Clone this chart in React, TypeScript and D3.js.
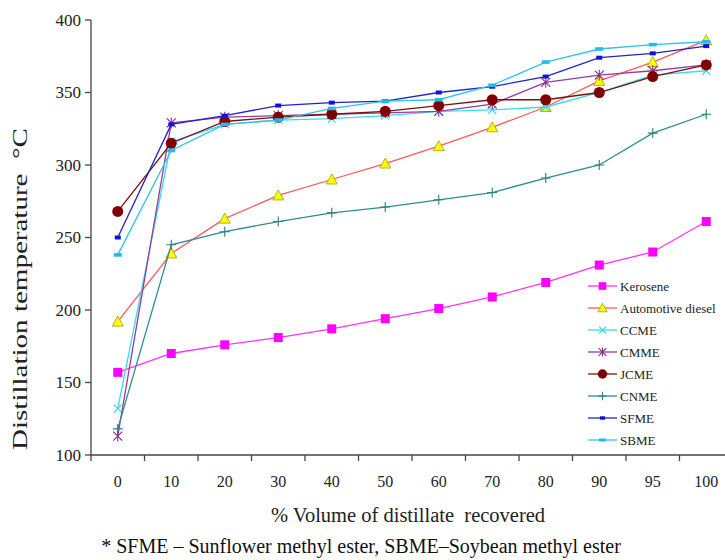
import React, { useRef, useEffect } from 'react';
import * as d3 from 'd3';

const categories = ['0', '10', '20', '30', '40', '50', '60', '70', '80', '90', '95', '100'];
const yTicks = [100, 150, 200, 250, 300, 350, 400];

const kerosene = [157, 170, 176, 181, 187, 194, 201, 209, 219, 231, 240, 261];
const diesel = [192, 239, 263, 279, 290, 301, 313, 326, 340, 358, 371, 386];
const ccme = [132, 316, 328, 331, 332, 334, 337, 338, 340, 350, 362, 365];
const cmme = [113, 329, 333, 334, 335, 336, 337, 342, 357, 362, 365, 369];
const jcme = [268, 315, 330, 333, 335, 337, 341, 345, 345, 350, 361, 369];
const cnme = [118, 245, 254, 261, 267, 271, 276, 281, 291, 300, 322, 335];
const sfme = [250, 328, 334, 341, 343, 344, 350, 354, 361, 374, 377, 382];
const sbme = [238, 310, 328, 331, 339, 344, 345, 355, 371, 380, 383, 385];

const seriesNames = ['Kerosene', 'Automotive diesel', 'CCME', 'CMME', 'JCME', 'CNME', 'SFME', 'SBME'];
const seriesValues = [kerosene, diesel, ccme, cmme, jcme, cnme, sfme, sbme];

const styles = [
  { line: '#ff33ff', marker: 'square', fill: '#ff00ff', stroke: '#ff00ff' },
  { line: '#ff5a5a', marker: 'triangle', fill: '#ffff00', stroke: '#a0a000' },
  { line: '#33ddee', marker: 'x', fill: 'none', stroke: '#33ddee' },
  { line: '#9a3c9a', marker: 'star', fill: 'none', stroke: '#8a2a8a' },
  { line: '#7a1010', marker: 'circle', fill: '#800000', stroke: '#800000' },
  { line: '#2a8f8f', marker: 'plus', fill: 'none', stroke: '#2a7f7f' },
  { line: '#2222cc', marker: 'smallsq', fill: '#1111dd', stroke: '#1111dd' },
  { line: '#2ec4ee', marker: 'bar', fill: '#22bbee', stroke: '#22bbee' },
];

const FONT = '"Liberation Serif", "Times New Roman", serif';

function drawMarker(g, type, x, y, k, st) {
  if (type === 'square') {
    g.append('rect').attr('x', x - 4.5 * k).attr('y', y - 4.5 * k)
      .attr('width', 9 * k).attr('height', 9 * k).attr('fill', st.fill);
  } else if (type === 'triangle') {
    g.append('path')
      .attr('d', `M${x},${y - 5.5 * k}L${x + 5.5 * k},${y + 4.5 * k}L${x - 5.5 * k},${y + 4.5 * k}Z`)
      .attr('fill', st.fill).attr('stroke', st.stroke).attr('stroke-width', 0.8);
  } else if (type === 'x') {
    const r = 4 * k;
    g.append('path')
      .attr('d', `M${x - r},${y - r}L${x + r},${y + r}M${x - r},${y + r}L${x + r},${y - r}`)
      .attr('stroke', st.stroke).attr('stroke-width', 1.2);
  } else if (type === 'star') {
    const r = 4.5 * k;
    g.append('path')
      .attr('d', `M${x - r},${y - r}L${x + r},${y + r}M${x - r},${y + r}L${x + r},${y - r}M${x},${y - r * 1.2}L${x},${y + r * 1.2}`)
      .attr('stroke', st.stroke).attr('stroke-width', 1.1);
  } else if (type === 'circle') {
    g.append('circle').attr('cx', x).attr('cy', y).attr('r', 5.5 * k).attr('fill', st.fill);
  } else if (type === 'plus') {
    const r = 5 * k;
    g.append('path')
      .attr('d', `M${x - r},${y}L${x + r},${y}M${x},${y - r}L${x},${y + r}`)
      .attr('stroke', st.stroke).attr('stroke-width', 1.1);
  } else if (type === 'smallsq') {
    g.append('rect').attr('x', x - 3 * k).attr('y', y - 2 * k)
      .attr('width', 6 * k).attr('height', 4 * k).attr('fill', st.fill);
  } else if (type === 'bar') {
    g.append('rect').attr('x', x - 4 * k).attr('y', y - 1.8 * k)
      .attr('width', 8 * k).attr('height', 3.6 * k).attr('fill', st.fill);
  }
}

const App = () => {
  const ref = useRef(null);

  useEffect(() => {
    const width = 725;
    const height = 560;
    const left = 91;
    const top = 20;
    const bottom = 455;
    const step = 53.5;

    const x = d3.scaleBand().domain(categories).range([left, left + step * categories.length]);
    const y = d3.scaleLinear().domain([100, 400]).range([bottom, top]);

    const root = d3.select(ref.current);
    root.selectAll('*').remove();

    const svg = root.append('svg')
      .attr('width', width)
      .attr('height', height)
      .style('position', 'absolute')
      .style('left', '0px')
      .style('top', '0px')
      .style('background', '#fff');

    const axisColor = '#444';

    // Y axis
    svg.append('line').attr('x1', left).attr('x2', left).attr('y1', top).attr('y2', bottom)
      .attr('stroke', axisColor).attr('stroke-width', 1.3);
    yTicks.forEach(t => {
      svg.append('line').attr('x1', left - 6).attr('x2', left).attr('y1', y(t)).attr('y2', y(t))
        .attr('stroke', axisColor).attr('stroke-width', 1.3);
      svg.append('text').attr('x', left - 10).attr('y', y(t)).attr('dy', '0.35em')
        .attr('text-anchor', 'end').attr('font-family', FONT).attr('font-size', 17)
        .attr('fill', '#222').text(t);
    });

    // X axis
    svg.append('line').attr('x1', left).attr('x2', left + step * categories.length)
      .attr('y1', bottom).attr('y2', bottom).attr('stroke', axisColor).attr('stroke-width', 1.3);
    d3.range(categories.length + 1).forEach(i => {
      const xx = left + i * step;
      svg.append('line').attr('x1', xx).attr('x2', xx).attr('y1', bottom).attr('y2', bottom + 6)
        .attr('stroke', axisColor).attr('stroke-width', 1.3);
    });
    categories.forEach(c => {
      svg.append('text').attr('x', x(c) + x.bandwidth() / 2).attr('y', 487)
        .attr('text-anchor', 'middle').attr('font-family', FONT).attr('font-size', 16)
        .attr('fill', '#222').text(c);
    });

    // Axis titles
    svg.append('text').attr('x', 408).attr('y', 522).attr('text-anchor', 'middle')
      .attr('font-family', FONT).attr('font-size', 20.5).attr('fill', '#222')
      .attr('xml:space', 'preserve')
      .text('% Volume of distillate  recovered');
    svg.append('text')
      .attr('transform', 'translate(27,289) rotate(-90)')
      .attr('text-anchor', 'middle').attr('font-family', FONT).attr('font-size', 21.5)
      .attr('fill', '#222').attr('xml:space', 'preserve')
      .attr('textLength', 322).attr('lengthAdjust', 'spacingAndGlyphs')
      .text('Distillation temperature  °C');
    svg.append('text').attr('x', 361).attr('y', 553).attr('text-anchor', 'middle')
      .attr('font-family', FONT).attr('font-size', 20).attr('fill', '#111')
      .text('* SFME – Sunflower methyl ester, SBME–Soybean methyl ester');

    // Series
    const cx = c => x(c) + x.bandwidth() / 2;
    const lineGen = d3.line().x((d, i) => cx(categories[i])).y(d => y(d));

    seriesValues.forEach((vals, si) => {
      const st = styles[si];
      const g = svg.append('g');
      g.append('path').attr('d', lineGen(vals)).attr('fill', 'none')
        .attr('stroke', st.line).attr('stroke-width', 1.3);
      vals.forEach((v, i) => drawMarker(g, st.marker, cx(categories[i]), y(v), 1, st));
    });

    // Legend
    const lg = svg.append('g');
    seriesNames.forEach((name, i) => {
      const st = styles[i];
      const ly = 286 + i * 22;
      lg.append('line').attr('x1', 588).attr('x2', 617).attr('y1', ly).attr('y2', ly)
        .attr('stroke', st.line).attr('stroke-width', 1.3);
      drawMarker(lg, st.marker, 602.5, ly, 0.85, st);
      lg.append('text').attr('x', 620).attr('y', ly).attr('dy', '0.35em')
        .attr('font-family', FONT).attr('font-size', 13).attr('fill', '#222').text(name);
    });
  }, []);

  return <div ref={ref} />;
};

export default App;
